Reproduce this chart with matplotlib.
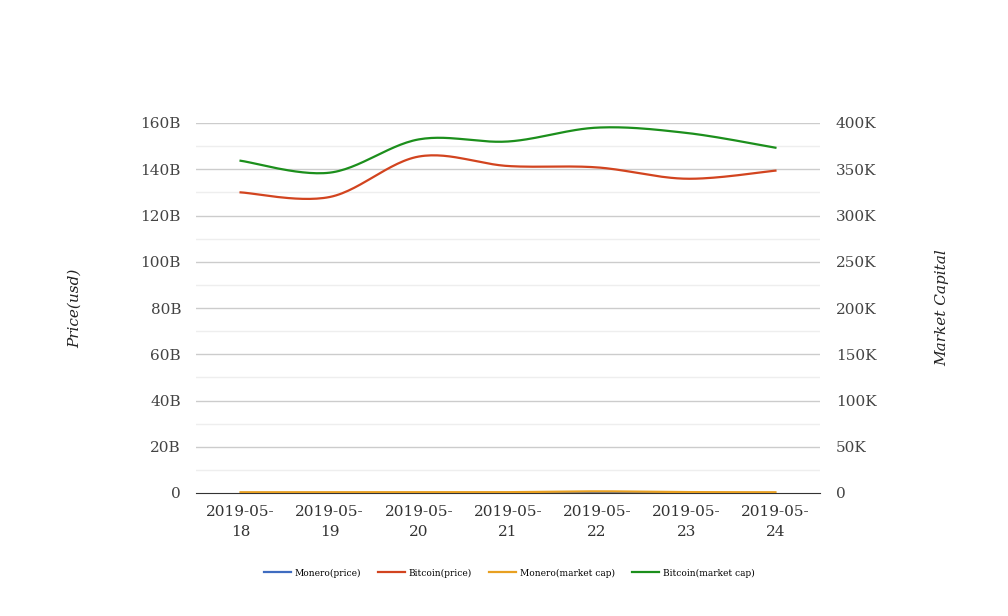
import numpy as np
import matplotlib
matplotlib.use("Agg")
import matplotlib.pyplot as plt
from matplotlib.ticker import FuncFormatter

dates = ["2019-05-\n18", "2019-05-\n19", "2019-05-\n20", "2019-05-\n21",
         "2019-05-\n22", "2019-05-\n23", "2019-05-\n24"]
# price axis (left), billions
monero_price = [0.0, 0.0, 0.0, 0.0, 0.0, 0.0, 0.0]
bitcoin_price = [130.0, 128.0, 145.5, 141.4, 140.8, 135.9, 139.4]
# market cap axis (right), thousands
monero_cap = [0.8, 0.8, 0.9, 0.9, 1.8, 1.0, 0.8]
bitcoin_cap = [359.2, 346.3, 382.3, 380.0, 395.0, 389.3, 373.3]

left_ticks = [0, 20, 40, 60, 80, 100, 120, 140, 160]
right_ticks = [0, 50, 100, 150, 200, 250, 300, 350, 400]

plt.rcParams['font.family'] = ['DejaVu Serif']

def smooth(xs, ys, n=30, t=0.5):
    xs = np.asarray(xs, float); ys = np.asarray(ys, float)
    px, py = [], []
    N = len(xs)
    for i in range(N - 1):
        p0 = np.array([xs[i], ys[i]]); p1 = np.array([xs[i + 1], ys[i + 1]])
        pm = np.array([xs[i - 1], ys[i - 1]]) if i > 0 else p0
        pp = np.array([xs[i + 2], ys[i + 2]]) if i + 2 < N else p1
        c1 = p0 + (p1 - pm) * t / 3
        c2 = p1 - (pp - p0) * t / 3
        s = np.linspace(0, 1, n)[:, None]
        pts = (1 - s) ** 3 * p0 + 3 * (1 - s) ** 2 * s * c1 + 3 * (1 - s) * s ** 2 * c2 + s ** 3 * p1
        px.extend(pts[:, 0]); py.extend(pts[:, 1])
    return np.array(px), np.array(py)

fig = plt.figure(figsize=(10.08, 6.16), dpi=100)
ax = fig.add_axes([196 / 1008, 1 - 493 / 616, 624 / 1008, 370 / 616])
ax2 = ax.twinx()

x = np.arange(len(dates))
c_blue = "#3f6cc0"
c_red = "#d2441f"
c_orange = "#e8a021"
c_green = "#1c8f1c"

ax.set_xlim(-0.5, 6.5)
ax.set_ylim(0, 160)
ax2.set_ylim(0, 400)

for v in range(10, 160, 20):
    ax.axhline(v, color="#eeeeee", lw=1, zorder=0)
for v in range(20, 161, 20):
    ax.axhline(v, color="#cccccc", lw=1, zorder=0)

sx, sy = smooth(x, monero_price)
l1, = ax.plot(sx, sy, color=c_blue, lw=1.6, label="Monero(price)")
sx, sy = smooth(x, bitcoin_price)
l2, = ax.plot(sx, sy, color=c_red, lw=1.6, label="Bitcoin(price)")
sx, sy = smooth(x, monero_cap)
l3, = ax2.plot(sx, sy, color=c_orange, lw=1.6, label="Monero(market cap)")
sx, sy = smooth(x, bitcoin_cap)
l4, = ax2.plot(sx, sy, color=c_green, lw=1.6, label="Bitcoin(market cap)")

for a in (ax, ax2):
    for s in a.spines.values():
        s.set_visible(False)
ax.spines['bottom'].set_visible(True)
ax.spines['bottom'].set_color("#333333")

ax.set_xticks(x)
ax.set_xticklabels(dates, fontsize=11, color="#333333", linespacing=1.55)
ax.tick_params(axis='x', length=0, pad=8.5)
ax.set_yticks(left_ticks)
ax.yaxis.set_major_formatter(FuncFormatter(lambda v, p: "0" if v == 0 else f"{int(v)}B"))
ax.tick_params(axis='y', length=0, pad=10.8, labelsize=11, labelcolor="#444444")
ax2.set_yticks(right_ticks)
ax2.yaxis.set_major_formatter(FuncFormatter(lambda v, p: "0" if v == 0 else f"{int(v)}K"))
ax2.tick_params(axis='y', length=0, pad=11.5, labelsize=11, labelcolor="#444444")

fig.text(75 / 1008, 1 - 308 / 616, "Price(usd)", rotation=90, style='italic',
         fontsize=11, ha='center', va='center', color="#222222")
fig.text(942 / 1008, 1 - 308 / 616, "Market Capital", rotation=90, style='italic',
         fontsize=11, ha='center', va='center', color="#222222")

fig.legend(handles=[l1, l2, l3, l4], loc='center', bbox_to_anchor=(509 / 1008, 1 - 573 / 616),
           ncol=4, frameon=False, fontsize=6.5, handlelength=3.0, handletextpad=0.4,
           columnspacing=1.9)

fig.savefig("out.png", dpi=100, facecolor="white")
